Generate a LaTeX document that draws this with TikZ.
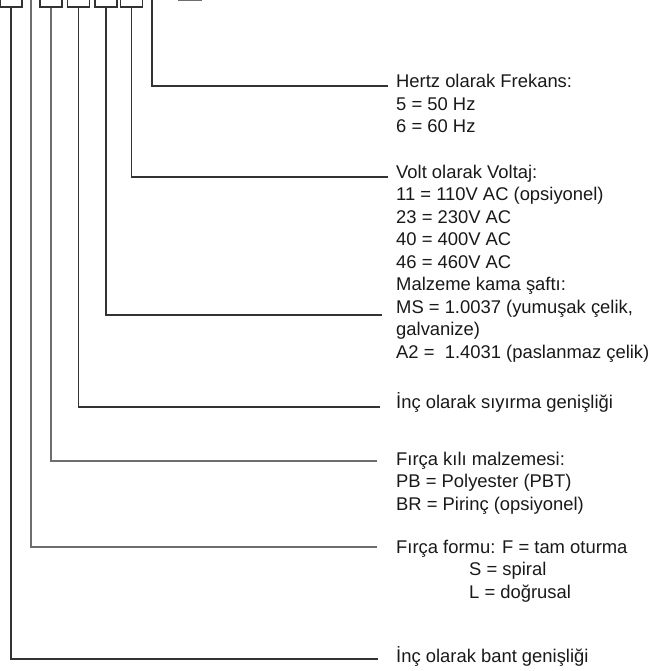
\documentclass[tikz,border=0pt]{standalone}
\usepackage{fontspec}
\setmainfont{Liberation Sans}
\definecolor{wiredark}{HTML}{333333}
\definecolor{wiregray}{HTML}{6E6E6E}

\begin{document}
\begin{tikzpicture}[x=1pt,y=-1pt]
\tikzset{
    slot/.style={%
        draw=wiredark, line width=1.1pt,
        rectangle,
        minimum width=22pt,
        minimum height=30pt,
        inner sep=0pt
        },
    lead/.style={draw=wiredark, line width=1.1pt},
    leadgray/.style={draw=wiregray, line width=1.1pt},
    legend/.style={%
        anchor=base west,
        inner sep=0pt,
        align=left,
        font=\fontsize{18.4}{22.5}\selectfont,
        text=black!90
        },
}
\useasboundingbox (0,0) rectangle (658,671);
%%%SLOTS
\node[slot] (s1) at (11,-8) {};
\node[slot] (s2) at (51,-8) {};
\node[slot] (s3) at (78.5,-8) {};
\node[slot] (s4) at (106,-8) {};
\node[slot] (s5) at (131.5,-8) {};
\coordinate (top2) at (31,-2);
\coordinate (top7) at (152,-2);
\draw[leadgray] (178,0.5) -- (202,0.5);
%%%LEGENDS (placed at the baseline of their last line)
\node[legend] (hz) at (396,133) {Hertz olarak Frekans:\\5 = 50 Hz\\6 = 60 Hz};
\node[legend] (vt) at (396,268) {Volt olarak Voltaj:\\11 = 110V AC (opsiyonel)\\23 = 230V AC\\40 = 400V AC\\46 = 460V AC};
\node[legend] (mk) at (396,358) {Malzeme kama şaftı:\\MS = 1.0037 (yumuşak çelik,\\galvanize)\\A2 = \ 1.4031 (paslanmaz çelik)};
\node[legend] (sy) at (396,408) {İnç olarak sıyırma genişliği};
\node[legend] (kl) at (396,510) {Fırça kılı malzemesi:\\PB = Polyester (PBT)\\BR = Pirinç (opsiyonel)};
\node[legend] (fo) at (396,598) {Fırça formu: F = tam oturma\\\hspace*{73pt}S = spiral\\\hspace*{73pt}L = doğrusal};
\node[legend] (bt) at (396,662) {İnç olarak bant genişliği};
%%%LEADERS
\draw[lead] (top7) |- ([shift={(-8,-47)}]hz.base west);
\draw[lead] (s5.south) |- ([shift={(-8,-91)}]vt.base west);
\draw[lead] (s4.south) |- ([shift={(-14,-43)}]mk.base west);
\draw[lead] (s3.south) |- ([shift={(-16,-1)}]sy.base west);
\draw[leadgray] (s2.south) |- ([shift={(-19,-49)}]kl.base west);
\draw[leadgray] (top2) |- ([shift={(-19,-51)}]fo.base west);
\draw[lead] (s1.south) |- ([shift={(-18,-3)}]bt.base west);
\end{tikzpicture}
\end{document}
